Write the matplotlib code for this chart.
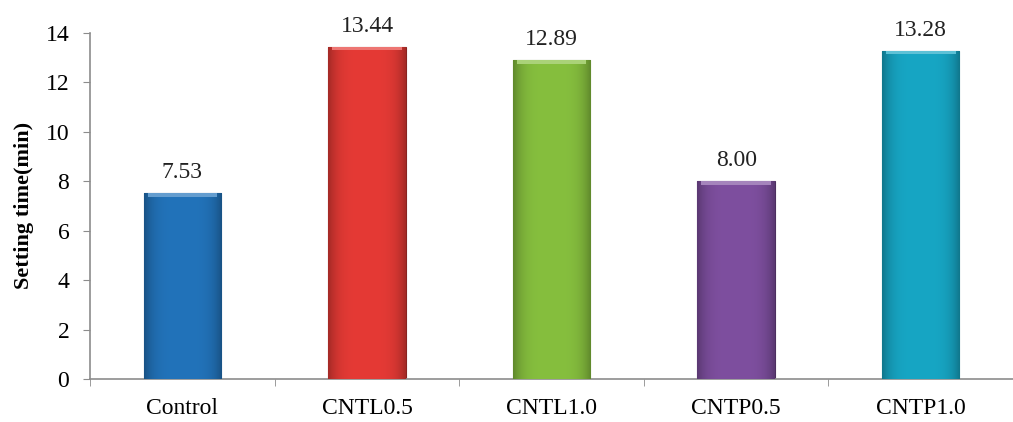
import matplotlib
matplotlib.use("Agg")
import matplotlib.pyplot as plt
import matplotlib.colors as mcolors
import numpy as np

categories = ["Control", "CNTL0.5", "CNTL1.0", "CNTP0.5", "CNTP1.0"]
setting_time = [7.53, 13.44, 12.89, 8.00, 13.28]
bar_colors = ["#2273BA", "#E53A35", "#86BF3E", "#7E4F9F", "#17A6C4"]

plt.rcParams["font.family"] = ["Liberation Serif", "DejaVu Serif"]

fig = plt.figure(figsize=(10.13, 4.22), dpi=100)
ax = fig.add_axes([0.089, 0.102, 0.911, 0.820])

x = np.arange(len(categories))
bars = ax.bar(x, setting_time, width=0.42, color=bar_colors, zorder=2)

# fake the excel bevel: horizontal shading clipped to each bar
for b, c in zip(bars, bar_colors):
    rgb = np.array(mcolors.to_rgb(c))
    t = np.linspace(-1, 1, 64)
    shade = 1 - 0.28 * np.abs(t) ** 4
    img = np.clip(rgb[None, :] * shade[:, None], 0, 1)[None, :, :]
    x0, y0 = b.get_x(), b.get_y()
    w, h = b.get_width(), b.get_height()
    im = ax.imshow(img, extent=[x0, x0 + w, y0, y0 + h], aspect="auto",
                   interpolation="bicubic", zorder=3)
    im.set_clip_path(b)
    # lighter cap at top
    cap = np.clip(rgb + (1 - rgb) * 0.3, 0, 1)
    ax.fill_between([x0 + w * 0.05, x0 + w * 0.95], y0 + h - 0.15, y0 + h,
                    color=cap, zorder=4, lw=0)
    b.set_edgecolor(rgb * 0.6)
    b.set_linewidth(0.8)

for xi, v in zip(x, setting_time):
    ax.text(xi, v + 0.4, f"{v:.2f}", ha="center", va="bottom", fontsize=17,
            color="#222222", zorder=5)

ax.set_xlim(-0.5, len(categories) - 0.5)
ax.set_ylim(0, 14)
ax.set_yticks(range(0, 15, 2))
ax.set_xticks(x)
ax.set_xticklabels(categories, fontsize=17)
ax.set_xticks(np.arange(-0.5, len(categories), 1), minor=True)
ax.tick_params(axis="x", which="major", length=0, pad=14)
ax.tick_params(axis="x", which="minor", length=5, color="#8c8c8c", direction="out")
ax.tick_params(axis="y", labelsize=17, length=5, color="#8c8c8c", pad=10)
ax.set_ylabel("Setting time(min)", fontsize=16, fontweight="bold", labelpad=8)

for s in ["top", "right"]:
    ax.spines[s].set_visible(False)
for s in ["left", "bottom"]:
    ax.spines[s].set_color("#8c8c8c")
    ax.spines[s].set_linewidth(1.2)

fig.savefig("out.png", dpi=100)
